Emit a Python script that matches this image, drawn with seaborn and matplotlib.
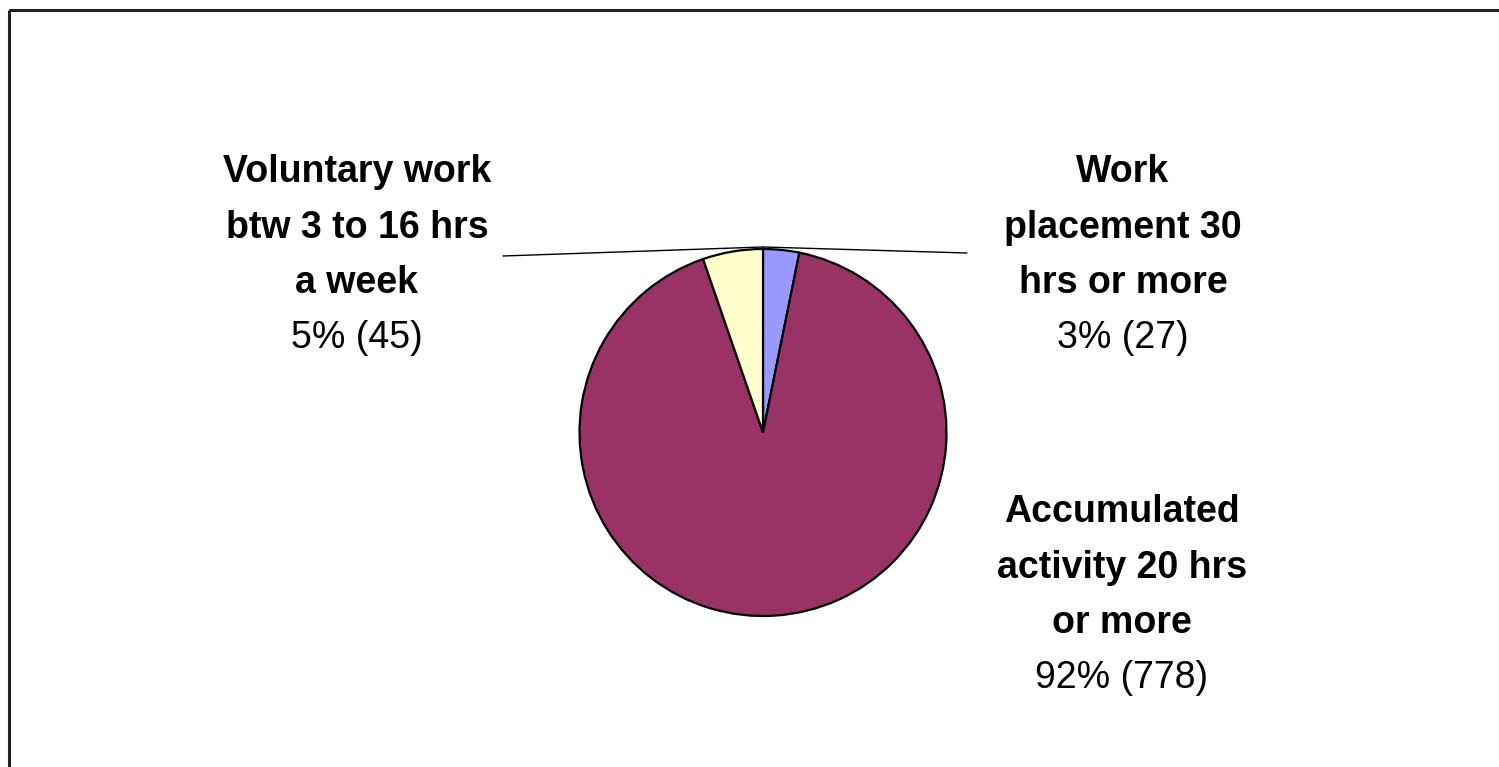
import matplotlib
matplotlib.use("Agg")
import matplotlib.pyplot as plt
import seaborn as sns

sns.set_theme(style="white")
plt.rcParams['font.family'] = ['Liberation Sans', 'DejaVu Sans']

# Slice data, in drawing order (clockwise from 12 o'clock)
categories = ["Work\nplacement 30\nhrs or more",
              "Accumulated\nactivity 20 hrs\nor more",
              "Voluntary work\nbtw 3 to 16 hrs\na week"]
counts = [27, 778, 45]
percent_labels = ["3% (27)", "92% (778)", "5% (45)"]
colors = ["#9999FF", "#993366", "#FFFFCC"]

W, H = 1499, 767
fig = plt.figure(figsize=(W / 100, H / 100), dpi=100)
fig.patch.set_facecolor("white")
ax = fig.add_axes([0, 0, 1, 1])
ax.set_xlim(0, W)
ax.set_ylim(0, H)
ax.set_aspect("equal")
ax.axis("off")

def py(y):
    return H - y

cx, cy, r = 763, py(432.5), 183.5

# leader lines (behind the pie)
ax.plot([503, 763], [py(256), py(247)], color="black", lw=1.0, zorder=1)
ax.plot([763, 967], [py(247), py(253)], color="black", lw=1.0, zorder=1)

ax.pie(counts, colors=colors, startangle=90, counterclock=False,
       center=(cx, cy), radius=r, frame=True,
       wedgeprops=dict(edgecolor="black", linewidth=1.6, zorder=2))
ax.set_xlim(0, W)
ax.set_ylim(0, H)
ax.axis("off")

# label blocks: (x center, y of first line)
label_pos = [(1123, 172), (1122, 512), (357, 172)]
step = 55.5
fs = 27
for name, pct, (lx, ly) in zip(categories, percent_labels, label_pos):
    lines = name.split("\n")
    for i, line in enumerate(lines):
        ax.text(lx, py(ly + i * step), line, ha="center", va="center",
                fontsize=fs, fontweight="bold", color="black")
    ax.text(lx, py(ly + len(lines) * step), pct, ha="center", va="center",
            fontsize=fs, color="black")

# outer frame
ax.plot([9.5, W], [py(9.5), py(9.5)], color="#222222", lw=2.2, zorder=5,
        solid_capstyle="butt")
ax.plot([9.5, 9.5], [py(9.5), 0], color="#222222", lw=2.2, zorder=5,
        solid_capstyle="butt")

fig.savefig("out.png", dpi=100, facecolor="white")
